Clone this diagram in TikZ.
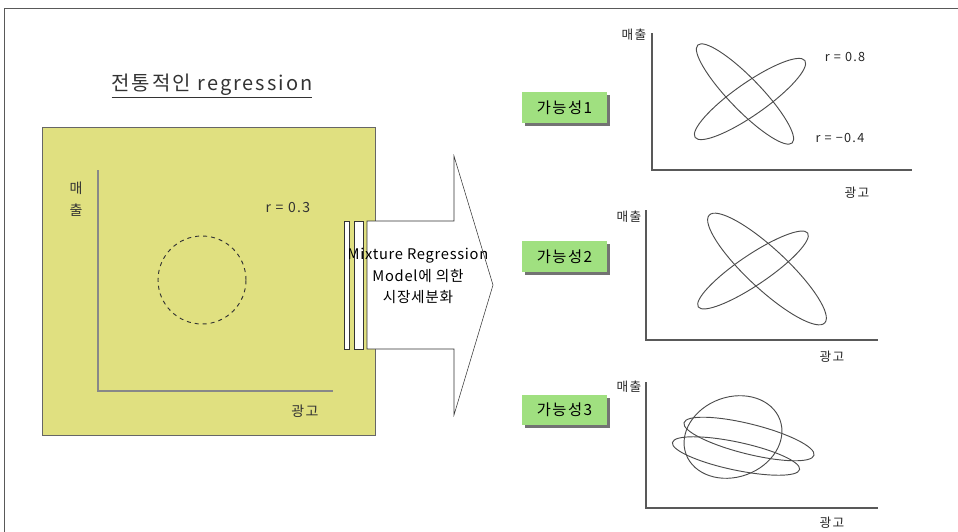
\documentclass[tikz,border=0pt]{standalone}
\usepackage{fontspec}
\setmainfont{Noto Sans CJK KR}
\newfontfamily\widefont[LetterSpace=10]{Noto Sans CJK KR}
\newfontfamily\midfont[LetterSpace=5]{Noto Sans CJK KR}
\usetikzlibrary{positioning,shadows}
\definecolor{boxyellow}{RGB}{224,224,128}
\definecolor{labgreen}{RGB}{160,224,128}
\definecolor{axisgray}{RGB}{136,136,136}

\begin{document}
\begin{tikzpicture}[x=0.75pt,y=0.75pt]
 \tikzstyle{lab}=[font=\widefont\fontsize{9.5}{11}\selectfont,text=black!85,inner sep=1pt]
 \tikzstyle{biglab}=[font=\widefont\fontsize{10.5}{16.5}\selectfont,text=black!80,inner sep=1pt]
 \tikzstyle{ell}=[draw=black!70,line width=0.7pt]
 \tikzstyle{axis}=[draw=black!65,line width=1.1pt]
 \tikzstyle{greenbox}=[rectangle,fill=labgreen,minimum width=64pt,minimum height=23pt,
   font=\widefont\fontsize{11.5}{12}\selectfont,
   drop shadow={shadow xshift=2.2pt,shadow yshift=-2.2pt,fill=black!55,opacity=1}]
 \useasboundingbox (0,0) rectangle (958,-532);
 \draw[black!65] (4,-532) -- (4,-8) -- (958,-8);
 % left side: traditional regression
 \node (title) at (212,-86) [font=\widefont\fontsize{15}{16}\selectfont,text=black!80]
   {\underline{전통적인 regression}};
 \draw[draw=black!60,fill=boxyellow] (42,-127) rectangle (375,-435);
 \coordinate (ytop) at (98,-170);
 \coordinate (orig) at (98,-391);
 \coordinate (xend) at (333,-391);
 \draw[axisgray,line width=2.2pt] (ytop) -- (orig) -- (xend);
 \node (ylab) at (76,-199) [biglab,align=center] {매\\출};
 \node (r03) at (288,-208) [biglab] {r = 0.3};
 \node (xlab) at (305,-411) [biglab] {광고};
 \draw[dashed,black!80,line width=0.7pt] (202,-280) circle (44);
 % block arrow
 \draw[black!80,fill=white] (367,-221) -- (454,-221) -- (454,-156) -- (493,-285)
   -- (454,-415) -- (454,-349) -- (367,-349) -- cycle;
 \draw[black!80,fill=white] (344,-221) rectangle (349,-349);
 \draw[black!80,fill=white] (354,-221) rectangle (363,-349);
 \node (mix) at (418,-276) [align=center,font=\midfont\fontsize{11}{16}\selectfont]
   {Mixture Regression\\Model에 의한\\시장세분화};
 % possibilities
 \node (p1) at (564.5,-107.5) [greenbox] {가능성1};
 \node (p2) at (564.5,-256.5) [greenbox] {가능성2};
 \node (p3) at (564.5,-410) [greenbox] {가능성3};
 % plot 1
 \coordinate (a1) at (652,-33);
 \coordinate (o1) at (652,-170);
 \coordinate (b1) at (912,-170);
 \draw[axis] (a1) -- (o1) -- (b1);
 \node (y1) at (634,-35) [lab] {매출};
 \node (x1) at (857,-193) [lab] {광고};
 \node (r1a) at (845,-57) [lab] {r = 0.8};
 \node (r1b) at (840,-138) [lab] {r = −0.4};
 \draw[ell,rotate around={35:(750,-99)}] (750,-99) ellipse [x radius=67,y radius=16];
 \draw[ell,rotate around={-46:(745,-94)}] (745,-94) ellipse [x radius=68,y radius=16];
 % plot 2
 \coordinate (a2) at (646,-210);
 \coordinate (o2) at (646,-340);
 \coordinate (b2) at (878,-340);
 \draw[axis] (a2) -- (o2) -- (b2);
 \node (y2) at (629,-217) [lab] {매출};
 \node (x2) at (832,-357) [lab] {광고};
 \draw[ell,rotate around={-43:(767,-269)}] (767,-269) ellipse [x radius=79,y radius=20];
 \draw[ell,rotate around={34:(753,-270)}] (753,-270) ellipse [x radius=66,y radius=15];
 % plot 3
 \coordinate (a3) at (646,-382);
 \coordinate (o3) at (646,-508);
 \coordinate (b3) at (878,-508);
 \draw[axis] (a3) -- (o3) -- (b3);
 \node (y3) at (629,-387) [lab] {매출};
 \node (x3) at (832,-523) [lab] {광고};
 \draw[ell,rotate around={20:(733,-437)}] (733,-437) ellipse [x radius=50,y radius=40];
 \draw[ell,rotate around={-14:(749,-439)}] (749,-439) ellipse [x radius=67,y radius=15];
 \draw[ell,rotate around={-12:(736,-456)}] (736,-456) ellipse [x radius=65,y radius=14];
\end{tikzpicture}
\end{document}
